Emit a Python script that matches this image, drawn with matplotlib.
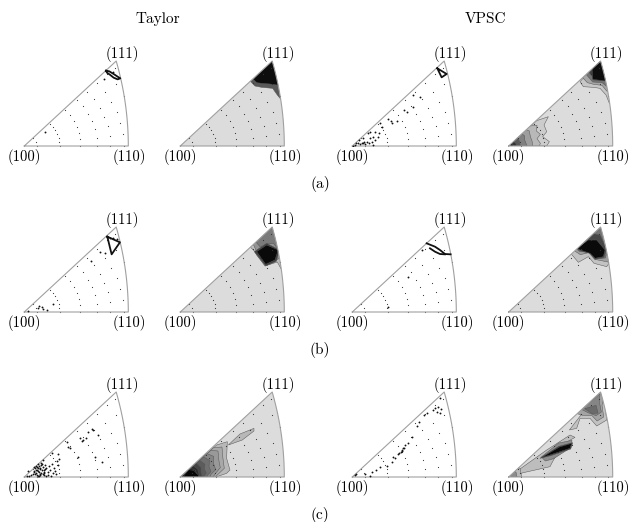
import numpy as np
import matplotlib
matplotlib.use('Agg')
import matplotlib.pyplot as plt
from matplotlib.patches import Polygon

plt.rcParams['font.family'] = ['cmr10', 'DejaVu Serif']
plt.rcParams['axes.unicode_minus'] = False

# coordinates below: offset from the (100) pole, (110) is at x=312, (111) at y=255
WIDTH = 312.0
HEIGHT = 255.0

# dotted polar grid, radius as a fraction of the (100)-(110) distance
grid_radii = [0.122, 0.34, 0.54, 0.70, 0.827, 0.955, 1.09, 1.19]

# pole figure points, rows a, b, c
a1_x = [62, 267, 240]
a1_y = [41, 223, 200]
a1_line_x = [245, 255, 268, 280, 288, 280, 268, 258, 248, 245]
a1_line_y = [226, 224, 216, 208, 203, 200, 205, 213, 220, 226]

a3_x = [3, 11, 16, 23, 31, 38, 43, 50, 58, 63, 68, 53, 61, 78, 81, 68, 53, 88, 83, 108, 115, 118, 133, 156, 165, 181, 203, 183, 48, 31, 21, 8, 28, 36]
a3_y = [0, 8, 10, 6, 8, 5, 13, 8, 13, 3, 18, 23, 26, 26, 38, 43, 43, 58, 70, 80, 76, 70, 76, 108, 103, 153, 148, 118, 40, 23, 18, 3, 10, 11]
a3_line_x = [255, 283, 268, 255]
a3_line_y = [233, 216, 206, 233]

b1_x = [45, 55, 67, 42, 52, 87, 12, 199, 227, 242, 249, 257, 267, 277]
b1_y = [19, 9, 6, 11, 16, 23, 3, 153, 181, 176, 226, 223, 221, 218]
b1_line_x = [249, 287, 262, 249]
b1_line_y = [226, 209, 173, 226]

b3_x = [106, 168, 208]
b3_y = [15, 106, 186]
b3_line1_x = [223, 248, 263, 278, 295]
b3_line1_y = [206, 196, 186, 174, 173]
b3_line2_x = [233, 248, 263, 278]
b3_line2_y = [191, 181, 174, 173]

c1_x = [28, 32, 35, 38, 40, 42, 45, 47, 50, 52, 55, 58, 60, 62, 48, 44, 36, 33, 30, 41, 46, 51, 56, 39, 43, 37, 49, 54, 59, 63, 66, 70, 74, 78, 82, 88, 92, 97, 100, 105, 60, 65, 72, 80, 87, 95, 55, 48, 42, 36, 30, 25, 20, 15, 12, 8,
        127, 132, 137, 167, 177, 185, 172, 192, 205, 202, 232, 222, 160, 212, 82, 102]
c1_y = [30, 26, 34, 22, 18, 28, 33, 24, 13, 20, 30, 16, 6, 25, 8, 4, 12, 10, 19, 38, 28, 36, 10, 30, 14, 5, 42, 38, 20, 35, 28, 15, 32, 22, 40, 28, 18, 48, 35, 55, 12, 4, 6, 3, 13, 10, 52, 5, 3, 22, 15, 8, 5, 3, 18, 2,
        106, 90, 86, 116, 111, 118, 108, 136, 141, 143, 46, 126, 60, 60, 72, 70]

c3_x = [8, 11, 38, 53, 58, 71, 83, 103, 118, 121, 138, 145, 153, 158, 168, 178, 193, 201, 215, 223, 241, 248, 258, 265, 263, 253, 263, 128, 148, 140, 150, 155]
c3_y = [6, 9, 9, 3, 16, 21, 29, 33, 46, 61, 69, 76, 86, 96, 103, 119, 153, 166, 186, 191, 201, 206, 211, 203, 191, 196, 238, 56, 81, 71, 78, 88]

# contour bands of the orientation density, drawn from the outside in
a2_levels = [0.35, 0.05]
a2_bands = [
    ([205, 224, 244, 277, 291, 310, 320, 276], [200, 180, 176, 173, 153, 130, 260, 260]),
    ([276, 219, 229, 244, 269, 290, 320, 320], [258, 200, 190, 188, 186, 183, 170, 258]),
]

a4_levels = [0.80, 0.72, 0.62, 0.50, 0.35, 0.20, 0.05, 0.78, 0.65, 0.45, 0.25, 0.05]
a4_bands = [
    ([84, 119, 106, 114, 102, 122, 114, 0], [76, 88, 63, 43, 28, 13, 0, 0]),
    ([63, 85, 83, 95, 85, 95, 92, 0], [60, 62, 45, 35, 22, 8, 0, 0]),
    ([50, 62, 65, 70, 72, 0], [50, 45, 28, 15, 0, 0]),
    ([38, 48, 48, 55, 0], [38, 30, 18, 0, 0]),
    ([25, 32, 35, 0], [26, 15, 0, 0]),
    ([14, 22, 22, 0], [15, 6, 0, 0]),
    ([6, 12, 16, 0], [8, 4, 0, 0]),
    ([214, 224, 254, 274, 292, 302, 330, 330, 275], [193, 178, 176, 173, 153, 128, 128, 260, 260]),
    ([222, 236, 255, 280, 294, 330, 330, 275], [205, 190, 185, 182, 165, 150, 258, 258]),
    ([232, 245, 252, 280, 298, 330, 330, 275], [215, 200, 192, 190, 175, 170, 258, 258]),
    ([240, 250, 254, 288, 330, 330, 275], [222, 210, 198, 196, 190, 258, 258]),
    ([250, 252, 290, 330, 330, 275], [234, 200, 195, 195, 258, 258]),
]

b2_levels = [0.75, 0.58, 0.48, 0.25, 0.04]
b2_bands = [
    ([205, 224, 229, 254, 291, 302, 340, 340, 276], [200, 181, 171, 138, 150, 130, 130, 260, 260]),
    ([218, 229, 256, 288, 296, 340, 340, 276], [205, 181, 143, 156, 160, 160, 260, 260]),
    ([225, 240, 262, 280, 292, 300, 290, 276], [212, 195, 205, 205, 190, 165, 260, 260]),
    ([222, 259, 298, 288, 256], [181, 206, 186, 152, 138]),
    ([229, 259, 294, 284, 256], [181, 201, 186, 156, 143]),
]

b4_levels = [0.76, 0.62, 0.45, 0.28, 0.04]
b4_bands = [
    ([186, 209, 239, 256, 294, 310, 330, 274], [176, 149, 166, 146, 136, 160, 260, 260]),
    ([195, 215, 240, 258, 298, 310, 300, 274], [185, 172, 178, 158, 150, 180, 262, 262]),
    ([200, 212, 244, 260, 290, 298, 285, 274], [192, 182, 178, 160, 162, 190, 245, 262]),
    ([202, 214, 244, 259, 285, 294, 275, 255], [194, 184, 176, 158, 163, 188, 230, 235]),
    ([204, 239, 264, 289, 284, 259, 244, 214], [191, 216, 216, 186, 166, 161, 176, 186]),
]

c2_levels = [0.72, 0.72, 0.66, 0.60, 0.52, 0.44, 0.36, 0.27, 0.18, 0.10, 0.03]
c2_bands = [
    ([109, 141, 139, 149, 139, 107, 0], [96, 106, 56, 21, 11, 0, 0]),
    ([144, 179, 221, 221, 186], [96, 129, 146, 138, 111]),
    ([100, 125, 128, 132, 115, 105, 0], [88, 90, 55, 26, 10, 0, 0]),
    ([92, 113, 116, 120, 105, 98, 0], [80, 78, 48, 28, 10, 0, 0]),
    ([80, 100, 100, 106, 92, 90, 0], [70, 62, 40, 22, 8, 0, 0]),
    ([70, 88, 86, 92, 82, 80, 0], [60, 50, 32, 16, 6, 0, 0]),
    ([58, 74, 72, 78, 70, 0], [50, 38, 24, 12, 0, 0]),
    ([48, 62, 62, 66, 0], [42, 28, 14, 0, 0]),
    ([38, 52, 56, 58, 0], [34, 24, 10, 0, 0]),
    ([28, 44, 50, 54, 0], [26, 22, 8, 0, 0]),
    ([14, 25, 40, 55, 55, 8], [8, 22, 20, 5, 0, 0]),
]

c4_levels = [0.76, 0.64, 0.52, 0.42, 0.74, 0.55, 0.25, 0.03, 0.72, 0.55]
c4_bands = [
    ([182, 204, 214, 244, 264, 294, 289, 300, 274], [141, 146, 176, 176, 153, 171, 211, 260, 260]),
    ([205, 222, 250, 265, 285, 280, 290, 274], [190, 185, 184, 168, 180, 215, 258, 258]),
    ([218, 240, 262, 278, 272, 274], [203, 192, 184, 195, 225, 250]),
    ([228, 250, 268, 262], [205, 190, 192, 215]),
    ([114, 184, 199, 159, 129, 124, 44, 0], [81, 126, 119, 96, 41, 31, 13, 0]),
    ([98, 150, 190, 186, 135, 110], [60, 102, 110, 88, 55, 48]),
    ([94, 150, 192, 186, 126], [56, 92, 103, 84, 64]),
    ([96, 152, 189, 184, 124], [57, 90, 101, 86, 66]),
    ([12, 24, 34, 39, 0], [11, 31, 26, 0, 0]),
    ([6, 16, 22, 25, 0], [6, 18, 14, 0, 0]),
]

col_x = [24.3, 180.3, 352.3, 508.7]
row_y = [146.0, 312.0, 477.0]


def sector():
    t = np.linspace(0, 1, 40)
    bx = 1 / (np.sqrt(2 + t**2) + 1) / np.tan(np.pi / 8)
    by = t * bx
    xs = np.concatenate([[0], bx]) * WIDTH
    ys = np.concatenate([[0], by]) * HEIGHT / 0.884
    return xs, ys


def grid_dots(ax):
    phi = np.radians(np.arange(0, 45.1, 7.2))
    for r in grid_radii:
        if r < 0.2:
            p = np.radians(np.arange(0, 45.1, 22.5))
        else:
            p = phi
        t = np.tan(p)
        rb = np.sqrt(1 + t**2) / (np.sqrt(2 + t**2) + 1) / np.tan(np.pi / 8)
        keep = r < rb + 0.005
        ax.scatter(r * np.cos(p[keep]) * WIDTH, r * np.sin(p[keep]) * HEIGHT / 0.884,
                   s=0.7, color='#333333', linewidths=0, zorder=5, clip_on=False)


def setup(row, col, filled):
    fig_w, fig_h = fig.get_size_inches() * fig.dpi
    ax = fig.add_axes([col_x[col] / fig_w, 1 - row_y[row] / fig_h, 104 / fig_w, 85 / fig_h])
    ax.set_xlim(0, WIDTH)
    ax.set_ylim(0, HEIGHT)
    ax.axis('off')
    xs, ys = sector()
    ax.add_patch(Polygon(np.column_stack([xs, ys]), closed=True, fc='#dcdcdc' if filled else 'white',
                         ec='none', zorder=1))
    ax.plot(list(xs) + [0], list(ys) + [0], color='#a0a0a0', lw=0.8, zorder=6, clip_on=False)
    grid_dots(ax)
    ax.text(0, -33, '(100)', ha='center', va='center', fontsize=10.6)
    ax.text(315, -33, '(110)', ha='center', va='center', fontsize=10.6)
    ax.text(293, 276, '(111)', ha='center', va='center', fontsize=10.6)
    return ax


def bands(ax, levels, band_list):
    xs, ys = sector()
    clip = Polygon(np.column_stack([xs, ys]), closed=True, transform=ax.transData)
    for lev, (bx, by) in zip(levels, band_list):
        p = Polygon(np.column_stack([bx, by]), closed=True, fc=str(lev), ec='#555555', lw=0.35, zorder=2)
        ax.add_patch(p)
        p.set_clip_path(clip)


def points(ax, x, y):
    ax.scatter(x, y, s=1.8, color='#111111', linewidths=0, zorder=7)


def thick(ax, x, y):
    ax.plot(x, y, color='#111111', lw=1.3, zorder=7)


fig = plt.figure(figsize=(6.29, 5.22), dpi=100)

ax = setup(0, 0, False)
points(ax, a1_x, a1_y)
thick(ax, a1_line_x, a1_line_y)
ax = setup(0, 1, True)
bands(ax, a2_levels, a2_bands)
ax = setup(0, 2, False)
points(ax, a3_x, a3_y)
thick(ax, a3_line_x, a3_line_y)
ax = setup(0, 3, True)
bands(ax, a4_levels, a4_bands)

ax = setup(1, 0, False)
points(ax, b1_x, b1_y)
thick(ax, b1_line_x, b1_line_y)
ax = setup(1, 1, True)
bands(ax, b2_levels, b2_bands)
ax = setup(1, 2, False)
points(ax, b3_x, b3_y)
thick(ax, b3_line1_x, b3_line1_y)
thick(ax, b3_line2_x, b3_line2_y)
ax = setup(1, 3, True)
bands(ax, b4_levels, b4_bands)

ax = setup(2, 0, False)
points(ax, c1_x, c1_y)
ax = setup(2, 1, True)
bands(ax, c2_levels, c2_bands)
ax = setup(2, 2, False)
points(ax, c3_x, c3_y)
ax = setup(2, 3, True)
bands(ax, c4_levels, c4_bands)

fig.text(157.7 / 629, 1 - 19 / 522, 'Taylor', ha='center', va='center', fontsize=11)
fig.text(485.7 / 629, 1 - 19 / 522, 'VPSC', ha='center', va='center', fontsize=11)
fig.text(320 / 629, 1 - 184 / 522, '(a)', ha='center', va='center', fontsize=11)
fig.text(320 / 629, 1 - 350 / 522, '(b)', ha='center', va='center', fontsize=11)
fig.text(320 / 629, 1 - 515 / 522, '(c)', ha='center', va='center', fontsize=11)

fig.savefig('out.png', dpi=100)
